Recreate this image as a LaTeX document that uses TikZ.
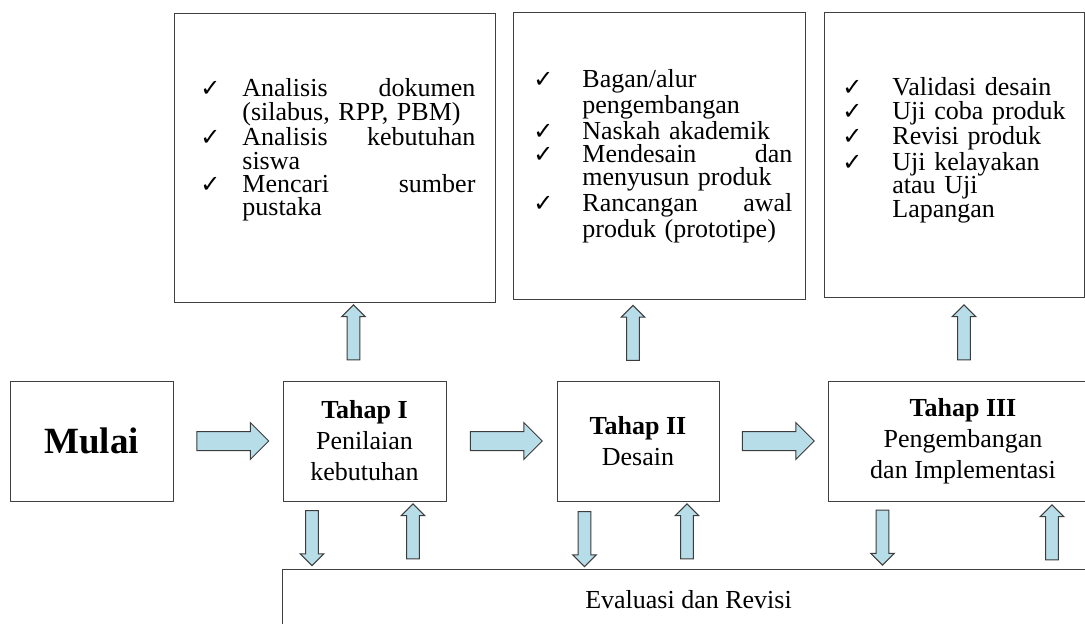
\documentclass[tikz,border=0pt]{standalone}
\usepackage{fontspec}
\setmainfont{Liberation Serif}
\newfontfamily\cekfont{DejaVu Sans}
\usepackage{tikz}
\usetikzlibrary{positioning,calc,shapes.arrows}
\definecolor{GarisKotak}{RGB}{64,64,64}
\definecolor{GarisPanah}{RGB}{60,60,60}
\definecolor{BiruPanah}{RGB}{183,221,232}
\newlength{\jarakcek}
\newcommand{\butir}{\par\noindent\llap{\makebox[\jarakcek][l]{\cekfont\fontsize{12}{12}\selectfont ✓}}}
\tikzset{
  kotak/.style={draw=GarisKotak, line width=0.5pt, inner sep=0pt, align=center},
  daftar/.style={inner sep=0pt, anchor=north west, align=left,
                 font={\fontsize{13}{11.7}\selectfont\setlength{\jarakcek}{#1}}},
  daftar/.default=21pt,
  tahap/.style={kotak, minimum height=60pt, font=\fontsize{13}{15.5}\selectfont},
  panahdatar/.style={single arrow, draw=GarisPanah, fill=BiruPanah, line width=0.5pt,
                     inner xsep=0pt, inner ysep=4.5pt, text height=0pt, text depth=0pt,
                     minimum width=0pt, minimum height=36pt, single arrow head extend=4.5pt},
  panahtegak/.style={panahdatar, inner ysep=2.9pt, minimum height=27.5pt,
                     single arrow head extend=2.75pt},
  panahnaik/.style={panahtegak, rotate=90},
  panahturun/.style={panahtegak, rotate=-90},
}
\begin{document}
\begin{tikzpicture}[x=0.5pt, y=-0.5pt]
  \useasboundingbox (0,0) rectangle (1085,623);
  \clip (0,0) rectangle (1085,623);

  % Baris tahap
  \node[tahap, minimum width=81.5pt] (mulai) at (91.5,441)
    {\fontsize{18.5}{20}\selectfont\bfseries Mulai};
  \node[tahap, minimum width=81.5pt, right=54.5pt of mulai] (tahap1)
    {\textbf{Tahap I}\\Penilaian\\kebutuhan};
  \node[tahap, minimum width=81pt, right=55pt of tahap1] (tahap2)
    {\textbf{Tahap II}\\Desain};
  \node[tahap, minimum width=135pt, right=54pt of tahap2] (tahap3)
    {\textbf{Tahap III}\\Pengembangan\\dan Implementasi};

  % Kotak kegiatan di atas
  \node[kotak, anchor=north west, minimum width=160.5pt, minimum height=144.5pt] (kotak1) at (174,13) {};
  \node[kotak, anchor=north west, minimum width=146pt, minimum height=143.5pt] (kotak2) at (513,12) {};
  \node[kotak, anchor=north west, minimum width=130pt, minimum height=142.5pt] (kotak3) at (824,12) {};

  \node[daftar, text width=116.5pt] (isi1) at (242,73)
    {\butir Analisis\hfill dokumen\\(silabus, RPP, PBM)
     \butir Analisis\hfill kebutuhan\\siswa
     \butir Mencari\hfill sumber\\pustaka};
  \node[daftar=24.5pt, text width=105pt] (isi2) at (582,64)
    {\butir Bagan/alur\\pengembangan
     \butir Naskah akademik
     \butir Mendesain\hfill dan\\menyusun produk
     \butir Rancangan\hfill awal\\produk (prototipe)};
  \node[daftar=25pt, text width=92pt] (isi3) at (892,72)
    {\butir Validasi desain
     \butir Uji coba produk
     \butir Revisi produk
     \butir Uji kelayakan\\atau Uji\\Lapangan};

  % Evaluasi
  \node[kotak, anchor=north west, minimum width=406pt, minimum height=30pt,
        font=\fontsize{13}{15}\selectfont] (evaluasi) at (282,569) {Evaluasi dan Revisi};

  % Panah
  \node[panahdatar] (p1) at ($(mulai.east)!0.5!(tahap1.west)$) {};
  \node[panahdatar] (p2) at ($(tahap1.east)!0.5!(tahap2.west)$) {};
  \node[panahdatar] (p3) at ($(tahap2.east)!0.5!(tahap3.west)$) {};

  \node[panahnaik] (n1) at (353.5,335.5) {};
  \node[panahnaik] (n2) at (633,336) {};
  \node[panahnaik] (n3) at (964,335.5) {};

  \node[panahturun] (t1) at (312,535) {};
  \node[panahnaik] (b1) at (413,534.5) {};
  \node[panahturun] (t2) at (584.5,536) {};
  \node[panahnaik] (b2) at (687,534.5) {};
  \node[panahturun] (t3) at (882.5,534.5) {};
  \node[panahnaik] (b3) at (1052,535.5) {};
\end{tikzpicture}
\end{document}
